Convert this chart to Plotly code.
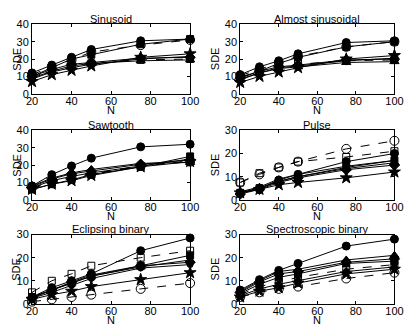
import plotly.graph_objects as go

# sample sizes on the x axis
N = [20, 30, 40, 50, 75, 100]
x_ticks = [20, 40, 60, 80, 100]

titles = ["Sinusoid", "Almost sinusoidal", "Sawtooth", "Pulse",
          "Eclipsing binary", "Spectroscopic binary"]
y_max = [40, 40, 40, 30, 30, 30]

# SDE values per panel, one list per method
circle_filled = [
    [12, 16.5, 21, 25.5, 30.5, 31.5],
    [11, 15.5, 19, 23, 29.5, 30.5],
    [8, 14.5, 19.5, 24, 30.5, 32],
    [3, 5, 8.5, 11, 16.5, 20],
    [3, 7, 10, 13, 23, 28.5],
    [6, 10.5, 14.5, 17.5, 25, 28],
]
square_filled = [
    [10, 15, 20, 22.5, 28.5, 31.5],
    [9.5, 13, 17.5, 21, 27, 30],
    [6, 9, 11.5, 14.5, 19, 25],
    [3, 5, 8, 10, 14, 17],
    [3, 6, 9, 12, 16.5, 21],
    [4.5, 8.5, 11.5, 13, 17.5, 18.5],
]
triangle_filled = [
    [9, 13, 16, 17.5, 19, 19.5],
    [8, 12, 14.5, 15.5, 18, 18.5],
    [8, 12.5, 15.5, 17.5, 21, 21.5],
    [3, 5, 8, 10, 13.5, 16],
    [3, 6, 9, 12, 16, 19],
    [5.5, 10, 14, 15, 19, 21],
]
diamond_filled = [
    [10, 14, 17, 18, 20.5, 21],
    [9, 13, 15.5, 16.5, 19.5, 20],
    [7.5, 12, 15, 16.5, 20.5, 23],
    [2.5, 4.5, 7.5, 9.5, 13, 15],
    [2.5, 6, 9.5, 12.5, 16.5, 18],
    [5, 9.5, 13, 14, 18, 19.5],
]
dot_filled = [
    [8.5, 12.5, 15, 17, 20, 21.5],
    [8.5, 12, 15, 16, 19, 20.5],
    [7, 11, 13.5, 15.5, 19.5, 23.5],
    [3.5, 5.5, 9, 11, 14.5, 17],
    [2.5, 5, 8, 11, 15.5, 17],
    [3.5, 6.5, 8.5, 10, 14, 16],
]
star_filled = [
    [7, 11, 13.5, 16, 21, 23],
    [6.5, 10, 12.5, 15, 20, 22],
    [6, 9, 11, 14, 19, 22],
    [3, 4.5, 6.5, 7.5, 9.5, 12],
    [2, 4, 5.5, 7.5, 10.5, 13.5],
    [3, 5.5, 7, 9, 13, 15],
]
square_open = [
    [9.5, 13.5, 16.5, 17.5, 19.5, 20],
    [9.5, 13, 16, 17, 19, 19.5],
    [6.5, 10, 12.5, 14.5, 19.5, 22.5],
    [7.5, 11.5, 14, 16.5, 18.5, 21],
    [5, 10, 13, 16.5, 20, 23],
    [4, 7.5, 9.5, 11.5, 15, 17],
]
circle_open = [
    [11, 15.5, 19.5, 24, 28, 31],
    [10.5, 14, 18, 21.5, 27, 30],
    [7, 10.5, 13, 15, 19.5, 22],
    [7.5, 11, 14, 16.5, 22, 25.5],
    [1, 2, 3, 4, 6.5, 9],
    [3, 5, 6.5, 7.5, 11, 13.5],
]

series = [
    (circle_filled, "circle", "solid", 8),
    (square_filled, "square", "solid", 7),
    (triangle_filled, "triangle-up", "solid", 8),
    (diamond_filled, "diamond", "solid", 8),
    (dot_filled, "circle", "solid", 6),
    (star_filled, "star", "solid", 9),
    (square_open, "square-open", "dash", 7),
    (circle_open, "circle-open", "dash", 9),
]

W, H = 415, 335
# plot boxes in pixels: (left, right) per column, (top, bottom) per row
cols = [(27, 191), (243, 403)]
rows = [(19, 91), (129, 201), (237, 309)]
sde_x = [11, 217]

font = dict(family="Liberation Sans, Arial, sans-serif", size=11, color="black")
fig = go.Figure()


def label(text, x, y, **kw):
    fig.add_annotation(text=text, x=x, y=y, xref="paper", yref="paper",
                       xanchor="center", yanchor="middle", showarrow=False,
                       borderpad=0, font=font, **kw)


for p, title in enumerate(titles):
    r, c = divmod(p, 2)
    x0, x1 = cols[c]
    t, b = rows[r]
    k = "" if p == 0 else str(p + 1)
    for data, sym, dash, size in series:
        fig.add_trace(go.Scatter(
            x=N, y=data[p], xaxis="x" + k, yaxis="y" + k,
            mode="lines+markers",
            line=dict(color="black", width=1, dash=dash),
            marker=dict(symbol=sym, size=size, color="black",
                        line=dict(color="black", width=1)),
            cliponaxis=False, showlegend=False,
        ))
    common = dict(showgrid=False, zeroline=False, showline=True, mirror="ticks",
                  linecolor="black", linewidth=1, ticks="inside", ticklen=3,
                  tickcolor="black", tickfont=font)
    fig.layout["xaxis" + k] = dict(
        domain=[x0 / W, x1 / W], anchor="y" + k, range=[20, 100],
        tickvals=x_ticks, ticklabelstandoff=-3, **common)
    fig.layout["yaxis" + k] = dict(
        domain=[1 - b / H, 1 - t / H], anchor="x" + k, range=[0, y_max[p]],
        dtick=10, **common)
    label(title, (x0 + x1) / 2 / W, 1 - (t - 6) / H)
    label("N", (x0 + x1) / 2 / W, 1 - (b + 17) / H)
    label("SDE", sde_x[c] / W, 1 - (t + b) / 2 / H, textangle=-90)

fig.update_layout(width=W, height=H, margin=dict(l=0, r=0, t=0, b=0),
                  paper_bgcolor="white", plot_bgcolor="white", font=font)
# drop the browser's default 8px body margin so the figure fills the window
fig.write_html("out.html", config={"displayModeBar": False},
               post_script="document.body.style.margin = '0';")
